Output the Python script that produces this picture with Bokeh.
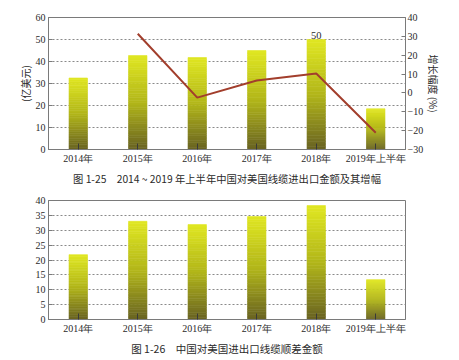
from bokeh.plotting import figure
from bokeh.models import ColumnDataSource, Range1d, LinearAxis, FactorRange, Title, FixedTicker
from bokeh.layouts import column
from bokeh.embed import file_html
from bokeh.resources import INLINE
from bokeh.core.properties import value

# ---------------- data ----------------
categories = ["2014年", "2015年", "2016年", "2017年", "2018年", "2019年上半年"]
trade_values = [32.5, 42.7, 41.8, 45.0, 50.0, 18.5]          # 亿美元
growth_categories = ["2015年", "2016年", "2017年", "2018年", "2019年上半年"]
growth_values = [31.4, -2.5, 6.6, 10.3, -21.1]                # %
label_categories = ["2018年"]
label_values = [50]
surplus_values = [21.8, 33.0, 31.9, 34.6, 38.3, 13.4]         # 亿美元
left_ticks_1 = [0, 10, 20, 30, 40, 50, 60]
right_ticks_1 = [-30, -20, -10, 0, 10, 20, 30, 40]
left_ticks_2 = [0, 5, 10, 15, 20, 25, 30, 35, 40]
caption_1 = "图 1-25　2014 ~ 2019 年上半年中国对美国线缆进出口金额及其增幅"
caption_2 = "图 1-26　中国对美国进出口线缆顺差金额"
y_label_1 = "(亿美元)"
y_label_right_1 = "增长幅度 (%)"

SERIF = "Liberation Serif"
SANS = "Noto Sans CJK SC"
AXIS_COLOR = "#7a7a7a"
TEXT_COLOR = "#2a2a2a"

TOP_RGB = (224, 231, 34)
MID_RGB = (178, 182, 26)
BOT_RGB = (104, 98, 34)


def lerp(a, b, t):
    return tuple(int(round(a[k] + (b[k] - a[k]) * t)) for k in range(3))


def shade(frac):
    # frac: 0 at bottom, 1 at top
    if frac > 0.5:
        c = lerp(MID_RGB, TOP_RGB, (frac - 0.5) / 0.5)
    else:
        c = lerp(BOT_RGB, MID_RGB, frac / 0.5)
    return "#%02x%02x%02x" % c


def gradient_source(cats, vals, n=40):
    xs, bottoms, tops, colors = [], [], [], []
    for c, v in zip(cats, vals):
        for i in range(n):
            xs.append(c)
            bottoms.append(v * i / n)
            tops.append(v * (i + 1) / n)
            colors.append(shade((i + 0.5) / n))
    return ColumnDataSource(dict(x=xs, bottom=bottoms, top=tops, color=colors))


def style_axis(ax, ticks=None):
    ax.axis_line_color = AXIS_COLOR
    ax.major_tick_line_color = AXIS_COLOR
    ax.minor_tick_line_color = None
    ax.major_tick_in = 4
    ax.major_tick_out = 0
    ax.major_label_text_font = SERIF
    ax.major_label_text_font_size = "10px"
    ax.major_label_text_color = TEXT_COLOR
    ax.major_label_standoff = 3
    ax.axis_label_text_font = SANS
    ax.axis_label_text_font_size = "10px"
    ax.axis_label_text_font_style = "normal"
    ax.axis_label_text_color = TEXT_COLOR
    if ticks is not None:
        ax.ticker = FixedTicker(ticks=ticks)


def style_x(ax):
    ax.axis_line_color = AXIS_COLOR
    ax.major_tick_line_color = "#3a3a3a"
    ax.major_tick_in = 6
    ax.major_tick_out = 0
    ax.major_label_text_font = SERIF
    ax.major_label_text_font_size = "10px"
    ax.major_label_text_color = TEXT_COLOR
    ax.major_label_standoff = 3


def caption(text, size):
    return Title(text=text, align="center", text_font=SANS, text_font_size=size,
                 text_font_style="normal", text_color=TEXT_COLOR, standoff=4)


# ---------------- figure 1 ----------------
p1 = figure(x_range=FactorRange(factors=categories), y_range=Range1d(0, 60),
            width=459, height=190, output_backend="svg", toolbar_location=None,
            min_border_left=48, min_border_right=54, min_border_top=17, min_border_bottom=41,
            background_fill_color="white", border_fill_color="white")
p1.extra_y_ranges = {"growth": Range1d(-30, 40)}

src1 = gradient_source(categories, trade_values)
p1.vbar(x="x", bottom="bottom", top="top", width=0.31, source=src1,
        fill_color="color", line_color="color", line_width=0.6)
p1.line(growth_categories, growth_values, y_range_name="growth",
        line_color="#a23e2c", line_width=2)
p1.text(x=label_categories, y=label_values, text=[str(v) for v in label_values],
        text_font=value(SERIF), text_font_size="10.5px", text_color=TEXT_COLOR,
        text_align="center", text_baseline="bottom", y_offset=-1)

style_axis(p1.yaxis[0], left_ticks_1)
p1.yaxis[0].axis_label = y_label_1
p1.yaxis[0].axis_label_standoff = 0
style_x(p1.xaxis[0])

right1 = LinearAxis(y_range_name="growth")
style_axis(right1, right_ticks_1)
right1.major_label_standoff = 2
right1.axis_label = y_label_right_1
right1.axis_label_standoff = 0
p1.add_layout(right1, "right")

p1.xgrid.visible = False
p1.ygrid.grid_line_color = "#8a8a8a"
p1.ygrid.grid_line_dash = "2 2"
p1.ygrid.ticker = FixedTicker(ticks=left_ticks_1)
p1.outline_line_color = AXIS_COLOR
p1.add_layout(caption(caption_1, "10.3px"), "below")

# ---------------- figure 2 ----------------
p2 = figure(x_range=FactorRange(factors=categories), y_range=Range1d(0, 40),
            width=459, height=169, output_backend="svg", toolbar_location=None,
            min_border_left=46, min_border_right=52, min_border_top=10, min_border_bottom=40,
            background_fill_color="white", border_fill_color="white")
src2 = gradient_source(categories, surplus_values)
p2.vbar(x="x", bottom="bottom", top="top", width=0.31, source=src2,
        fill_color="color", line_color="color", line_width=0.6)
style_axis(p2.yaxis[0], left_ticks_2)
style_x(p2.xaxis[0])
p2.xgrid.visible = False
p2.ygrid.grid_line_color = "#8a8a8a"
p2.ygrid.grid_line_dash = "2 2"
p2.ygrid.ticker = FixedTicker(ticks=left_ticks_2)
p2.outline_line_color = AXIS_COLOR
p2.add_layout(caption(caption_2, "10.5px"), "below")

layout = column(p1, p2, spacing=0)
open("out.html", "w").write(file_html(layout, INLINE))
